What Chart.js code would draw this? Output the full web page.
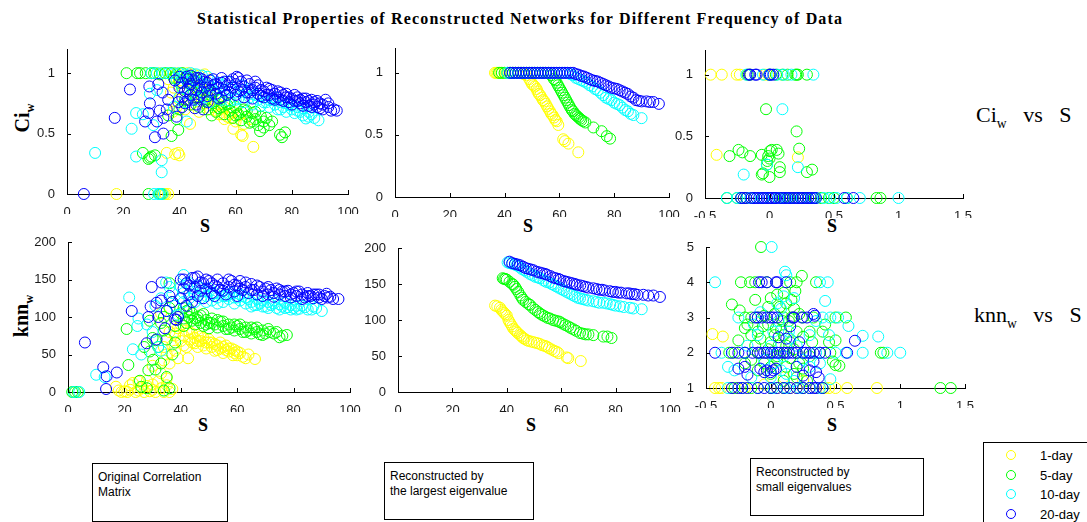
<!DOCTYPE html>
<html>
<head>
<meta charset="utf-8">
<script src="https://cdn.jsdelivr.net/npm/chart.js@4.4.0/dist/chart.umd.min.js"></script>
<style>
  body { margin: 0; width: 1087px; height: 522px; overflow: hidden; background: #fff; position: relative;
         font-family: "Liberation Sans", Arial, sans-serif; color: #000; }
  canvas { position: absolute; }
  .lbl { position: absolute; white-space: nowrap; line-height: 1; }
  .serif { font-family: "Liberation Serif", "Times New Roman", serif; }
  .c { transform: translate(-50%, -50%); }
  .ylab { transform: translate(-50%, -50%) rotate(-90deg); font-weight: bold; font-size: 20px; }
  .ylab sub, .side sub { font-size: 62%; vertical-align: -0.45em; }
  .axs { font-weight: bold; font-size: 18px; }
  .side { font-size: 22px; }
  .note { position: absolute; border: 1px solid #000; font-size: 12px; line-height: 15px; padding: 6px 5px; box-sizing: border-box; }
  .legend { position: absolute; left: 983px; top: 442px; width: 140px; height: 100px; border: 1px solid #000; }
  .legend .row { position: absolute; left: 22px; font-size: 13px; line-height: 1; }
  .legend .dot { position: absolute; left: 0; top: 1px; width: 8px; height: 8px; border: 1px solid; border-radius: 50%; }
  .legend .txt { position: absolute; left: 34px; top: 0; white-space: nowrap; }
</style>
</head>
<body>

<div id="title" class="lbl serif" style="left:197px; top:11px; font-weight:bold; font-size:16px;">Statistical Properties of Reconstructed Networks for Different Frequency of Data</div>

<div class="lbl serif ylab" style="left:24px; top:118px;">Ci<sub>w</sub></div>
<div class="lbl serif ylab" style="left:23px; top:316px;">knn<sub>w</sub></div>

<div class="lbl serif axs c" style="left:205px; top:226px;">S</div>
<div class="lbl serif axs c" style="left:528px; top:226px;">S</div>
<div class="lbl serif axs c" style="left:832px; top:226px;">S</div>
<div class="lbl serif axs c" style="left:203px; top:425px;">S</div>
<div class="lbl serif axs c" style="left:531px; top:425px;">S</div>
<div class="lbl serif axs c" style="left:832px; top:425px;">S</div>

<div class="lbl serif side" style="left:976px; top:104px;">Ci<sub>w</sub>&nbsp;&nbsp; vs &nbsp;&nbsp;S</div>
<div class="lbl serif side" style="left:974px; top:304px;">knn<sub>w</sub>&nbsp;&nbsp; vs &nbsp;&nbsp;S</div>

<div class="note" style="left:92px; top:463px; width:136px; height:59px;">Original Correlation<br>Matrix</div>
<div class="note" style="left:384px; top:462px; width:150px; height:58px;">Reconstructed by<br>the largest eigenvalue</div>
<div class="note" style="left:750px; top:458px; width:174px; height:58px;">Reconstructed by<br>small eigenvalues</div>

<div class="legend" id="legend"></div>

<script>
// series shared by all six panels
const seriesNames = ['1-day', '5-day', '10-day', '20-day'];
const seriesColors = ['#ffff00', '#00ff00', '#00ffff', '#0000ff'];

// tick labels
const sTicks = [0, 20, 40, 60, 80, 100];
const sSmallTicks = [-0.5, 0, 0.5, 1, 1.5];
const ciTicks = [0, 0.5, 1];
const knnTicks = [0, 50, 100, 150, 200];
const knnSmallTicks = [1, 2, 3, 4, 5];

// ---- Ci_w vs S, original correlation matrix ----
const ciOrigYellow = [[17.6,0],[34,0],[34.5,0],[35,0],[36,0],[35.5,0.34],[38.5,0.33],[39.6,0.34],[40,0.32],
  [33,1],[35,1],[37,1],[39,1],[41,1],[43,1],[45,0.99],[47,0.98],[49,0.99],
  [36,0.95],[38,0.97],[40,0.94],[42,0.96],[44,0.93],[46,0.88],[48,0.78],[50,0.86],[52,0.72],[54,0.66],[56,0.62],[58,0.66],
  [37,0.84],[37.7,0.68],[38,0.88],[39,0.72],[40,0.78],[41,0.92],[42,0.70],[43,0.85],[43.8,0.58],[44,0.74],[45,0.90],
  [46,0.80],[47,0.68],[48,0.86],[49,0.75],[50,0.82],[51,0.70],[52,0.78],[53,0.69],[54,0.74],[55,0.66],[56,0.72],
  [57,0.64],[58,0.63],[59,0.68],[59.2,0.54],[60,0.60],[61,0.65],[62,0.49],[62.5,0.48],[63,0.58],[65,0.62],[66.3,0.39]];
const ciOrigGreen = [[29,0],[33,0],[33.5,0],[27,0.34],[29.5,0.30],[31.3,0.32],[29,0.29],[30,0.31],
  [37.2,0.48],[39.6,0.53],[39,0.62],[36,0.65],
  [21.2,1],[25,1],[26,1],[28,1],[30,1],[31,1],[33,0.99],[35,1],[37,1],[39,0.99],[41,1],[43,0.98],[45,0.97],
  [38,0.96],[40,0.92],[42,0.96],[44,0.90],[46,0.93],[48,0.81],[50,0.88],[52,0.84],[54,0.71],[56,0.76],[58,0.75],
  [60,0.65],[62,0.68],[64,0.69],[66,0.60],[67,0.68],[69,0.64],[70,0.55],[71,0.63],[73,0.60],
  [40,0.70],[41,0.88],[42,0.78],[43,0.92],[44,0.74],[45,0.84],[46,0.80],[47,0.72],[48,0.88],[49,0.77],[50,0.70],
  [51,0.82],[51.5,0.65],[52,0.75],[53,0.68],[54,0.78],[55,0.72],[56,0.66],[57,0.74],[58,0.69],[59,0.63],[60,0.72],
  [61,0.66],[62,0.61],[63,0.70],[64,0.64],[65,0.59],[66,0.67],[67,0.62],[68,0.57],[68.7,0.52],[70,0.60],[72,0.57],
  [75.8,0.49],[76.5,0.47],[77.6,0.51]];
const ciOrigCyan = [[10,0.34],[23,0.54],[24.6,0.67],[24.6,0.31],[33.7,0.28],[33.7,0.18],[31,0],[32.5,0],[33,0],[34,0],
  [29.5,0.83],[30.7,0.57],[42.6,0.6],[27,0.66],[32,0.86],
  [30,1],[32,1],[34,1],[36,1],[38,1],[40,1],[42,0.99],[44,1],[46,0.99],[48,0.98],[50,0.97],
  [39,0.95],[41,0.97],[43,0.96],[45,0.95],[47,0.88],[49,0.91],[51,0.94],[53,0.88],[55,0.90],[57,0.93],[58,0.87],
  [60,0.78],[63,0.86],[65,0.87],[68,0.83],[70,0.76],[72,0.78],[74,0.80],[76,0.70],[78,0.75],[80,0.73],[82,0.69],
  [84,0.71],[86,0.68],[88,0.63],
  [38,0.72],[40,0.80],[41,0.88],[42,0.76],[43,0.92],[44,0.82],[45,0.86],[46,0.78],[47,0.93],[48,0.84],[49,0.80],
  [50,0.90],[51,0.76],[52,0.86],[53,0.82],[54,0.92],[55,0.78],[56,0.86],[57,0.82],[58,0.77],[59,0.88],[60,0.84],
  [61,0.79],[62,0.90],[63,0.76],[64,0.84],[65,0.80],[66,0.74],[67,0.82],[68,0.78],[69,0.73],[70,0.80],[71,0.76],
  [72,0.72],[73,0.78],[74,0.74],[75,0.70],[76,0.76],[77,0.72],[78,0.68],[79,0.74],[80,0.70],[81,0.67],[82,0.72],
  [83,0.68],[84,0.65],[85,0.625],[86,0.64],[87,0.66],[89.5,0.61]];
const ciOrigBlue = [[6,0],[17,0.63],[22.4,0.865],[29.3,0.89],[32.5,0.91],[29,0.67],[27.8,0.6],[31.3,0.47],[34.3,0.5],
  [33,0.69],[29.5,0.75],[35.5,0.70],[34.3,0.63],[32,0.6],[39,0.64],[39.6,0.76],[38.4,0.94],[42.6,0.97],[46,0.96],
  [48.5,0.7],[45.5,0.71],[60.4,0.97],[36,0.78],[34,0.84],
  [40,0.97],[41,0.72],[43,0.78],[44,0.98],[46,0.74],[47,0.96],[49,0.93],[50,0.76],[51,0.94],[53,0.91],[54,0.79],
  [55,0.96],[56,0.93],[57,0.82],[59,0.95],[61,0.85],[62,0.93],[64,0.94],[65,0.84],[67,0.93],[68,0.90],[69,0.81],
  [71,0.88],[72,0.82],[73,0.86],[74,0.78],[76,0.84],[77,0.77],[78,0.83],[79,0.80],[80,0.74],[81,0.77],[82,0.80],
  [83,0.78],[84,0.73],[85,0.79],[86,0.77],[87,0.72],[88,0.76],[89,0.77],[90,0.71],[91,0.74],[93,0.75],
  [40,0.88],[41,0.92],[41,0.80],[42,0.85],[42,0.75],[43,0.95],[43,0.87],[44,0.82],[44,0.91],[45,0.78],[45,0.94],
  [46,0.86],[47,0.90],[47,0.80],[48,0.95],[48,0.84],[49,0.88],[50,0.92],[50,0.81],[51,0.86],[52,0.90],[52,0.95],
  [53,0.83],[54,0.88],[55,0.92],[55,0.80],[56,0.86],[57,0.90],[58,0.84],[58,0.93],[59,0.88],[60,0.82],[60,0.91],
  [61,0.96],[62,0.86],[63,0.89],[63,0.80],[64,0.84],[65,0.91],[66,0.86],[66,0.79],[67,0.88],[68,0.83],[69,0.86],
  [70,0.80],[70,0.85],[71,0.82],[72,0.87],[73,0.79],[74,0.83],[75,0.80],[75,0.85],[76,0.78],[77,0.82],[78,0.80],
  [79,0.76],[80,0.79],[81,0.82],[82,0.77],[83,0.75],[84,0.79],[85,0.76],[86,0.73],[87,0.78],[88,0.74],[89,0.72],
  [90,0.75],[91,0.70],[92,0.78],[93,0.72],[94,0.69],[95,0.70],[96,0.69]];

// ---- Ci_w vs S, largest eigenvalue ----
const ciLargeYellow = [[36.5,1],[37,1],[37.5,1],[38,1],[38.5,1],[39,1],[40,1],[41,1],[42,1],[43,1],[44,1],[45,1],[46,1],
  [47,0.99],[48,0.98],[49,0.95],[49.5,0.93],[50,0.91],[50.5,0.90],[51,0.89],[51.7,0.87],[52,0.85],[52.5,0.83],[53,0.82],
  [53.5,0.80],[54,0.78],[54.5,0.77],[55,0.75],[55.5,0.73],[56,0.71],[56.6,0.69],[57,0.67],[57.5,0.66],[58,0.64],
  [58.5,0.62],[59,0.61],[59.6,0.58],[61.4,0.465],[62,0.45],[63.3,0.43],[66.9,0.36]];
const ciLargeGreen = [[38,1],[39,1],[40,1],[41,1],[42,1],[43,1],[44,1],[45,1],[46,1],[47,1],[48,1],[49,1],[50,1],[51,1],
  [52,1],[53,1],[54,1],[55,1],[56,1],[57,0.98],[58,0.95],[58.5,0.94],[59,0.92],[59.5,0.90],[60,0.88],[60.5,0.86],
  [61,0.84],[61.5,0.82],[62,0.80],[62.5,0.78],[63,0.76],[63.5,0.74],[64,0.72],[64.5,0.70],[65,0.69],[65.5,0.67],
  [66,0.66],[66.5,0.65],[67,0.64],[67.5,0.63],[68,0.62],[68.7,0.61],[69.5,0.60],[72.4,0.56],[75.4,0.53],[77.3,0.49],[78.5,0.47]];
const ciLargeCyan = [[41,1],[42,1],[43,1],[44,1],[45,1],[46,1],[47,1],[48,1],[49,1],[50,1],[51,1],[52,1],[53,1],[54,1],
  [55,1],[56,1],[57,1],[58,1],[59,1],[60,1],[61,1],[62,1],[63,1],[64,0.99],[65,0.98],[66,0.96],[67,0.95],[68,0.94],
  [69,0.93],[70,0.92],[71,0.90],[72,0.89],[73,0.87],[74,0.86],[75,0.84],[76,0.82],[77,0.80],[78,0.79],[79,0.78],
  [80,0.76],[81,0.75],[82,0.74],[83,0.72],[84,0.70],[85,0.69],[86,0.67],[87,0.66],[90,0.635]];
const ciLargeBlue = [[42,1],[43,1],[44,1],[45,1],[46,1],[47,1],[48,1],[49,1],[50,1],[51,1],[52,1],[53,1],[54,1],[55,1],
  [56,1],[57,1],[58,1],[59,1],[60,1],[61,1],[62,1],[63,1],[64,1],[65,1],[66,0.99],[67,0.985],[68,0.975],[69,0.97],
  [70,0.96],[71,0.95],[72,0.94],[73,0.935],[74,0.93],[75,0.92],[76,0.91],[77,0.90],[78,0.89],[79,0.88],[80,0.875],
  [81,0.87],[82,0.86],[83,0.85],[84,0.84],[85,0.83],[86,0.81],[87,0.80],[88,0.78],[89,0.775],[90,0.77],[91.8,0.77],
  [93,0.765],[94.3,0.765],[96.3,0.75]];

// ---- Ci_w vs S, small eigenvalues ----
const ciSmallYellow = [[-0.456,1],[-0.37,1],[-0.254,1],[-0.23,1],[-0.035,1],[-0.01,1],[-0.41,0.35],[0.22,0.33],
  [-0.2,0],[0.1,0],[0.3,0]];
const ciSmallGreen = [[-0.17,1],[-0.15,1],[0.0,1],[0.05,1],[0.1,1],[0.14,1],[0.2,1],[0.21,1],[0.22,1],[0.29,1],
  [-0.027,0.72],[0.21,0.54],[0.23,0.40],[-0.24,0.39],[-0.21,0.37],[-0.31,0.34],[-0.15,0.34],[-0.06,0.35],[-0.01,0.34],
  [0.004,0.38],[0.017,0.39],[0.056,0.39],[0.07,0.36],[-0.017,0.30],[-0.02,0.27],[0.08,0.25],[0.08,0.21],[-0.05,0.20],
  [-0.06,0.19],[0.0,0.17],[0.29,0.21],[0.33,0.23],[0.0,0.32],
  [-0.33,0],[-0.25,0],[-0.22,0],[-0.18,0],[-0.12,0],[-0.05,0],[0.02,0],[0.08,0],[0.11,0],[0.15,0],[0.18,0],[0.22,0],
  [0.25,0],[0.28,0],[0.35,0],[0.4,0],[0.46,0],[0.5,0],[0.6,0],[0.83,0],[0.86,0]];
const ciSmallCyan = [[-0.18,1],[-0.05,1],[0.0,1],[0.06,1],[0.11,1],[0.17,1],[0.34,1],
  [0.1,0.72],[-0.2,0.19],[0.22,0.25],[-0.02,0.27],
  [-0.33,0],[-0.25,0],[-0.22,0],[-0.15,0],[-0.1,0],[-0.05,0],[0.0,0],[0.04,0],[0.07,0],[0.1,0],[0.13,0],[0.16,0],
  [0.2,0],[0.25,0],[0.3,0],[0.33,0],[0.36,0],[0.42,0],[0.47,0],[0.52,0],[0.6,0],[0.70,0],[1.0,0]];
const ciSmallBlue = [[-0.16,1],[-0.15,1],[-0.11,1],[-0.1,1],[0.0,1],[0.01,1],[0.03,1],
  [-0.22,0],[-0.2,0],[-0.18,0],[-0.14,0],[-0.12,0],[-0.1,0],[-0.08,0],[-0.06,0],[-0.04,0],[-0.02,0],[0.0,0],[0.02,0],
  [0.04,0],[0.05,0],[0.08,0],[0.1,0],[0.12,0],[0.14,0],[0.16,0],[0.18,0],[0.2,0],[0.22,0],[0.24,0],[0.26,0],[0.28,0],
  [0.3,0],[0.32,0],[0.34,0],[0.36,0],[0.58,0],[0.65,0]];

// ---- knn_w vs S, original correlation matrix ----
const knnOrigYellow = [[17,7],[18,2],[19,0],[20,1],[21,0],[22,3],[22,9],[23,12],[24,0],[25,14],[25,2],[26,5],[27,0],
  [28,8],[28,15],[29,1],[30,3],[30,10],[31,0],[32,14],[33,5],[34,0],[35,9],[35,18],[36,0],[37,4],
  [30,35],[33,25],[34,42],[35,50],[36,38],[37,62],[36,80],[38,55],[34,60],[38,75],[39,45],[33,105],
  [41,62],[43,80],[44,66],[46,68],[47,74],[49,66],[51,66],[53,56],[54,66],[56,62],[57,58],[59,56],[60,54],[61,52],[64,50],
  [38,78],[39,85],[40,68],[40,90],[41,75],[42,82],[42,60],[42.6,45],[43,70],[44,78],[45,65],[45,72],[46,60],[46,76],
  [47,68],[48,62],[48,72],[49,58],[50,66],[50,70],[51,60],[52,64],[52,55],[53,62],[54,58],[55,60],[55,52],[56,56],
  [57,54],[58,58],[58.5,49],[59,52],[60,49],[62,47],[63,45],[66.3,44]];
const knnOrigGreen = [[1.5,0],[2.5,0],[3.5,0],[20.8,84],[21.4,36],[26,7],[25.5,15],[29,54],[31,69],[30.2,43],[28.5,29],
  [36,145],[34,100],[32,60],[33,38],[35,20],[36,5],[31,30],[27,60],[29,95],[30,72],[34,82],[33,92],[36,112],[37,120],
  [38,88],[38,66],[35,70],[37,50],[34,2],[28,5],
  [41,88],[43,110],[45,98],[47,102],[49,90],[51,92],[53,96],[55,94],[57,84],[59,90],[61,90],[63,80],[65,86],[67,86],
  [69,76],[71,84],[73,78],[74,80],
  [40,105],[41,98],[41,112],[42,92],[42,108],[43,100],[44,95],[44,105],[45,90],[46,100],[46,96],[47,92],[48,104],
  [48,88],[49,96],[50,92],[50,85],[51,98],[52,90],[53,86],[54,94],[55,88],[56,84],[57,90],[58,86],[59,82],[60,88],
  [61,84],[62,80],[63,86],[64,82],[65,78],[66,84],[67,80],[68,77],[69,82],[70,78],[71.6,80],[75,73],[76,75],[77.6,76]];
const knnOrigCyan = [[2,0],[4,0],[10,23],[13,20],[21.7,126],[25,98],[24.6,88],[23,57],[34.8,146],[41,156],[32,60],
  [31,115],[28,90],[30,80],[33,125],[36,140],[37,132],[35,108],[38,115],[39,103],[26,50],[33,55],
  [41,120],[43,145],[45,120],[47,138],[49,120],[51,130],[53,118],[55,128],[57,130],[59,126],[61,130],[63,126],[65,114],
  [67,116],[69,114],[71,112],[73,122],[75,110],[77,112],[79,110],[81,110],[83,115],[85,110],[88,112],
  [40,140],[41,132],[42,145],[43,125],[44,138],[45,130],[46,142],[47,125],[48,135],[49,128],[50,138],[51,122],[52,132],
  [53,126],[54,136],[55,120],[56,128],[57,124],[58,132],[59,118],[60,126],[61,122],[62,128],[63,118],[64,124],[65,120],
  [66,116],[67,124],[68,118],[69,122],[70,114],[71,120],[72,116],[73,118],[74,112],[75,117],[76,114],[77,119],[78,113],
  [79,116],[80,112],[81,115],[82,111],[84,113],[86.4,110],[87,114],[90,108]];
const knnOrigBlue = [[6,66],[12.5,33],[13.7,21],[17.3,26],[13.5,4],[22.6,108],[29.7,140],[33.2,146],[29.3,114],[31.4,119],
  [33,122],[28.5,100],[27.9,65],[31.4,70],[34.4,85],[35,108],[38,97],[38.5,96],[39,100],[32,100],[36,128],[37,120],
  [41,150],[43,142],[45,152],[47,146],[49,150],[51,145],[53,140],[55,135],[57,150],[59,143],[61,138],[63,146],[65,136],
  [67,142],[69,128],[71,140],[73,127],[75,136],[77,134],[79,126],[81,134],[83,124],[85,128],[87,130],[89,130],[92,126],
  [40,125],[40,150],[41,138],[42,115],[42,145],[43,130],[44,152],[44,120],[45,140],[46,128],[46,154],[47,135],[48,145],
  [48,125],[49,138],[50,148],[51,132],[52,142],[52,128],[53,150],[54,136],[55,145],[56,130],[57,140],[58,148],[59,134],
  [60,142],[60,128],[61,148],[62,136],[63,140],[64,132],[65,144],[66,136],[67,130],[68,140],[69,134],[70,138],[71,130],
  [72,136],[73,132],[74,138],[75,130],[76,134],[77,128],[78,135],[79,130],[80,132],[81,128],[82,134],[83,130],[84,126],
  [85,132],[86,128],[87,125],[88,130],[89,126],[90,124],[91,128],[91.7,131],[93,127],[94,124],[95.9,124]];

// ---- knn_w vs S, largest eigenvalue ----
const knnLargeYellow = [[35.7,120],[36.5,119],[37.5,117],[38,114],[38.5,112],[39,110],[39.5,108],[40,106],[40.6,100],
  [41,97],[41.5,94],[42,91],[42.4,88],[43,86],[43.5,84],[44,82],[44.9,79],[45.5,77],[46,75],[46.5,74],[47.3,72],[48,71],
  [49,70],[50,69],[51,68],[52,67],[53,65],[54,64],[54.7,63],[55.5,61],[56.5,59],[57.5,57],[58.3,56],[59,54],[62,48],
  [62.6,47],[67.2,43]];
const knnLargeGreen = [[38.5,158],[39,157],[39.5,157],[40,156],[41,153],[42,150],[42.4,149],[43,146],[43.5,143],[44.2,139],
  [45,134],[45.5,131],[46,128],[47,125],[48,122],[48.5,121],[49.5,117],[50.5,114],[51.5,111],[52.2,109],[53,107],[54,105],
  [55,103],[55.9,102],[57,100],[58,99],[59,98],[59.6,97],[60.5,95],[61.5,93],[62.6,91],[63.5,89],[64.5,87],[65.5,85],
  [66.9,82],[68,81],[69,80],[70,80],[71.8,79],[75.5,77],[77,77],[78.5,75]];
const knnLargeCyan = [[40.3,180],[41,179],[42,178],[43,177],[43.6,176],[44.5,174],[45.5,171],[46.5,169],[47.3,167],
  [48.5,164],[49.5,162],[50.5,160],[51.5,159],[52.2,158],[53.5,155],[54.5,153],[55.5,152],[56.5,150],[57.1,149],[58,147],
  [59,145],[60,143],[61,141],[62,139],[63,137],[64,135],[65,133],[66,131],[66.9,130],[68,129],[69,128],[70,127],
  [71.8,126],[73,125],[74,124],[75.5,124],[76.7,123],[78,122],[79,121],[80,120],[81.6,119],[83,118],[85.3,117],
  [86.5,116],[89.6,115]];
const knnLargeBlue = [[41,181],[42,179],[43,178],[44,177],[44.9,176],[46,174],[47,172],[48,171],[49,170],[49.8,169],
  [51,167],[52,166],[53,165],[54,164],[54.7,163],[56,161],[57,159],[58,158],[59,157],[59.6,156],[61,154],[62,153],
  [63,152],[64,151],[65,150],[65.7,149],[67,148],[68,147],[69,146],[70,145],[71.8,144],[73,143],[74,142],[75,142],
  [76,141],[77.9,140],[79,139],[80,139],[81,138],[82,138],[84,137],[85,137],[86,136],[87,136],[88,135],[90.2,135],
  [92,134],[93.9,134],[96.3,132]];

// ---- knn_w vs S, small eigenvalues ----
const knnSmallYellow = [[-0.45,2.53],[-0.37,2.46],[-0.43,1],[-0.4,1],[-0.38,1],[-0.3,1],[-0.25,1],[-0.2,1],[-0.1,1],
  [0.0,1],[0.05,1],[0.15,1],[0.2,1],[0.3,1],[0.35,1],[0.42,1],[0.45,1],[0.5,1],[0.59,1],[0.82,1],[0.25,1.2],[0.1,1.3],
  [-0.05,1.1]];
const knnSmallGreen = [[-0.075,5.0],[-0.23,4],[-0.16,4],[-0.12,4],[-0.03,4],[0.15,4],[0.2,4],[0.35,4],
  [0.24,4.18],[0.19,3.75],[-0.3,3.37],[-0.24,3.2],[0.0,3.55],[0.05,3.65],[0.1,3.7],[0.07,3.3],[0.12,3.4],[0.18,3.25],
  [-0.1,3.0],[-0.05,3.05],[-0.2,3],[-0.15,3],[0.1,3],[0.16,3],[0.25,3],[0.33,3],[0.5,3],[0.58,3],
  [-0.12,3.5],[-0.02,3.3],[0.03,3.1],[0.09,2.9],[0.16,3.5],[0.22,3.1],[-0.18,2.8],[-0.06,2.75],[0.03,2.5],[0.08,2.65],
  [0.12,2.2],[0.18,2.1],[-0.12,2.2],[-0.02,2.1],[0.05,1.9],[0.15,1.85],[-0.2,1.7],[0.0,1.6],[0.1,1.2],[0.25,1.55],
  [0.3,1.9],[0.32,2.3],[0.4,2.6],[0.42,2.8],[-0.25,2.35],[0.2,1.3],[0.28,1.2],
  [-0.2,2.7],[-0.1,2.6],[-0.02,2.8],[0.04,2.7],[0.1,2.5],[0.14,2.9],[0.2,2.6],[-0.08,2.4],[0.0,2.3],[0.06,2.2],
  [0.15,2.3],[0.25,2.45],[-0.15,2.5],[0.3,2.6],[0.45,2.3],[0.5,2.35],
  [-0.32,2],[-0.28,2],[-0.2,2],[-0.1,2],[0.0,2],[0.1,2],[0.2,2],[0.3,2],[0.38,2],[0.46,2],[0.85,2],[0.87,2],
  [-0.15,1.8],[-0.05,1.7],[0.05,1.8],[0.12,1.6],[0.22,1.7],[-0.1,1.5],[0.0,1.4],[0.18,1.4],[0.5,1.65],[0.53,1.63],
  [0.48,1.75],[-0.28,1],[-0.15,1],[0.0,1],[0.1,1],[0.25,1],[0.4,1],[1.31,1],[1.39,1]];
const knnSmallCyan = [[0.007,5.0],[-0.43,4.0],[0.11,4.3],[0.12,4.2],[0.38,4],[0.44,4],[0.42,3.47],[0.6,2.76],[0.71,2.48],
  [0.83,2.46],[0.4,3],[0.46,3],[0.52,3],[0.35,2.9],[0.3,2.5],[0.1,3.6],[0.05,3.4],[-0.08,3.15],[-0.25,3],[0.02,2.6],
  [0.15,2.4],[-0.18,2.2],[0.1,1.9],[0.25,1.8],[0.46,1.25],[-0.33,1.6],[0.0,1.3],[0.08,1.5],
  [-0.1,2.5],[0.0,2.2],[0.06,2.9],[0.14,2.6],[0.2,2.2],[-0.05,1.8],[0.03,1.7],[0.12,1.4],[0.18,1.2],[-0.15,1.3],
  [0.3,1.6],[0.38,1.7],[0.45,2.5],[-0.28,1.5],[-0.13,2.8],[0.08,3.25],[0.18,3.55],
  [-0.38,2],[-0.2,2],[0.05,2],[0.25,2],[0.35,2],[0.5,2],[0.58,2],[0.71,2],[0.9,2],[1.0,2],
  [-0.33,1],[-0.22,1],[-0.1,1],[0.02,1],[0.12,1],[0.22,1],[0.3,1],[0.38,1]];
const knnSmallBlue = [[-0.09,4],[-0.07,4],[-0.03,4],[0.04,4],[0.05,4],[0.12,4],
  [-0.12,3],[-0.1,3],[-0.07,3],[-0.03,3],[0.0,3],[0.02,3],[0.05,3],[0.17,3],[0.18,3],[0.24,3],[0.28,3],[0.33,3.1],[0.34,3.05],
  [0.06,2.44],[0.15,2.75],[0.65,2.34],[0.22,2.3],[0.12,2.4],
  [-0.43,2],[-0.3,2],[-0.25,2],[-0.2,2],[-0.14,2],[-0.1,2],[-0.08,2],[-0.05,2],[-0.03,2],[0.0,2],[0.02,2],[0.05,2],
  [0.07,2],[0.1,2],[0.12,2],[0.14,2],[0.17,2],[0.2,2],[0.25,2],[0.27,2],[0.3,2],[0.33,2],[0.38,2],[0.42,2],[0.59,2],
  [-0.03,1.5],[-0.05,1.45],[0.0,1.45],[0.02,1.5],[0.04,1.55],[-0.08,1.55],[-0.2,1.6],[-0.18,1.38],[0.25,1.35],[0.3,1.5],
  [0.35,1.45],[0.33,1.75],[0.2,1.6],[0.37,1.3],[-0.25,1.55],
  [-0.3,1],[-0.25,1],[-0.22,1],[-0.18,1],[-0.1,1],[-0.05,1],[0.0,1],[0.05,1],[0.1,1],[0.15,1],[0.2,1],[0.25,1],
  [0.3,1],[0.33,1],[0.35,1],[0.4,1]];

// fixed axis geometry so every plot box lands where it should
const PAD_L = 8, AXIS_W = 34, PAD_R = 24, PAD_T = 10, AXIS_H = 20, PAD_B = 2;
const TICK_FONT = { family: '"Liberation Sans", Arial, sans-serif', size: 13 };

const panels = [
  { left: 67,  right: 348, top: 49,  bottom: 194, xMin: 0, xMax: 100, yMin: 0, yMax: 1.2, xTicks: sTicks, yTicks: ciTicks,
    series: [ciOrigYellow, ciOrigGreen, ciOrigCyan, ciOrigBlue] },
  { left: 395, right: 669, top: 48,  bottom: 197, xMin: 0, xMax: 100, yMin: 0, yMax: 1.2, xTicks: sTicks, yTicks: ciTicks,
    series: [ciLargeYellow, ciLargeGreen, ciLargeCyan, ciLargeBlue] },
  { left: 705, right: 963, top: 50,  bottom: 198, xMin: -0.5, xMax: 1.5, yMin: 0, yMax: 1.2, xTicks: sSmallTicks, yTicks: ciTicks,
    series: [ciSmallYellow, ciSmallGreen, ciSmallCyan, ciSmallBlue] },
  { left: 68,  right: 350, top: 242, bottom: 392, xMin: 0, xMax: 100, yMin: 0, yMax: 200, xTicks: sTicks, yTicks: knnTicks,
    series: [knnOrigYellow, knnOrigGreen, knnOrigCyan, knnOrigBlue] },
  { left: 398, right: 670, top: 248, bottom: 392, xMin: 0, xMax: 100, yMin: 0, yMax: 200, xTicks: sTicks, yTicks: knnTicks,
    series: [knnLargeYellow, knnLargeGreen, knnLargeCyan, knnLargeBlue] },
  { left: 706, right: 965, top: 247, bottom: 388, xMin: -0.5, xMax: 1.5, yMin: 1, yMax: 5, xTicks: sSmallTicks, yTicks: knnSmallTicks,
    series: [knnSmallYellow, knnSmallGreen, knnSmallCyan, knnSmallBlue] }
];

// MATLAB-style tick marks pointing into the plot box
const inwardTicks = {
  id: 'inwardTicks',
  afterDraw(chart) {
    const { ctx, chartArea: a, scales: { x, y } } = chart;
    ctx.save();
    ctx.strokeStyle = '#000';
    ctx.lineWidth = 1;
    ctx.beginPath();
    x.ticks.forEach(t => {
      const px = Math.round(x.getPixelForValue(t.value)) + 0.5;
      ctx.moveTo(px, a.bottom);
      ctx.lineTo(px, a.bottom - 4);
    });
    y.ticks.forEach(t => {
      const py = Math.round(y.getPixelForValue(t.value)) + 0.5;
      ctx.moveTo(a.left, py);
      ctx.lineTo(a.left + 4, py);
    });
    ctx.stroke();
    ctx.restore();
  }
};

function axis(min, max, ticks, isX) {
  return {
    type: 'linear',
    min: min,
    max: max,
    grid: { display: false },
    border: { display: true, color: '#000', width: 1 },
    ticks: { color: '#1a1a1a', font: TICK_FONT, padding: isX ? 3 : 4, autoSkip: false, maxRotation: 0,
             callback: v => String(v) },
    afterBuildTicks: s => { s.ticks = ticks.map(v => ({ value: v })); },
    afterFit: s => {
      if (isX) s.height = AXIS_H; else s.width = AXIS_W;
      s.paddingLeft = 0; s.paddingRight = 0; s.paddingTop = 0; s.paddingBottom = 0;
    }
  };
}

panels.forEach(p => {
  const cv = document.createElement('canvas');
  const w = (p.right - p.left) + PAD_L + AXIS_W + PAD_R;
  const h = (p.bottom - p.top) + PAD_T + AXIS_H + PAD_B;
  cv.width = w; cv.height = h;
  cv.style.width = w + 'px'; cv.style.height = h + 'px';
  cv.style.left = (p.left - PAD_L - AXIS_W) + 'px';
  cv.style.top = (p.top - PAD_T) + 'px';
  document.body.appendChild(cv);

  new Chart(cv, {
    type: 'scatter',
    data: {
      datasets: p.series.map((pts, i) => ({
        label: seriesNames[i],
        data: pts.map(([x, y]) => ({ x, y })),
        pointStyle: 'circle',
        pointRadius: 5.5,
        pointBorderWidth: 1,
        pointBorderColor: seriesColors[i],
        pointBackgroundColor: 'rgba(0,0,0,0)',
        order: seriesNames.length - i,   // 20-day on top
        clip: false
      }))
    },
    options: {
      responsive: false,
      animation: false,
      devicePixelRatio: 1,
      layout: { padding: { left: PAD_L, right: PAD_R, top: PAD_T, bottom: PAD_B } },
      plugins: { legend: { display: false }, tooltip: { enabled: false } },
      scales: {
        x: axis(p.xMin, p.xMax, p.xTicks, true),
        y: axis(p.yMin, p.yMax, p.yTicks, false)
      }
    },
    plugins: [inwardTicks]
  });
});

// legend box, bottom right
const legend = document.getElementById('legend');
seriesNames.forEach((name, i) => {
  const row = document.createElement('div');
  row.className = 'row';
  row.style.top = (6 + i * 19.5) + 'px';
  row.innerHTML = '<span class="dot" style="border-color:' + seriesColors[i] + '"></span><span class="txt">' + name + '</span>';
  legend.appendChild(row);
});

// stretch the title to its full span
const title = document.getElementById('title');
const span = 645;
const tw = title.getBoundingClientRect().width;
title.style.letterSpacing = ((span - tw) / (title.textContent.length - 1)).toFixed(3) + 'px';
</script>
</body>
</html>
